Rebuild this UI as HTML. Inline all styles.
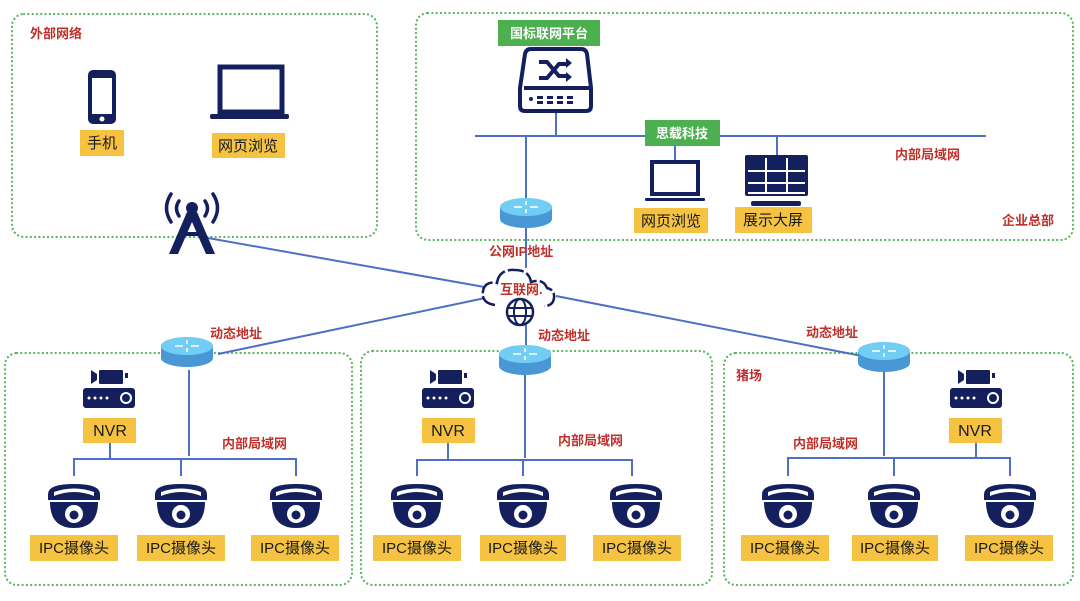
<!DOCTYPE html>
<html><head><meta charset="utf-8"><style>
body{margin:0;background:#fff;width:1080px;height:596px;overflow:hidden}
text{font-family:"Liberation Sans","Noto Sans CJK SC",sans-serif}
.r{fill:#c0302a;font-weight:bold;font-size:13px}
.y{fill:#1a1a1a;font-size:15px;text-anchor:middle}
.g{fill:#fff;font-size:13px;font-weight:bold;text-anchor:middle}
</style></head><body>
<svg width="1080" height="596" viewBox="0 0 1080 596" xmlns="http://www.w3.org/2000/svg">
<defs>
<g id="cam">
<path d="M-26,16 L-26,10 Q-26,0 0,0 Q26,0 26,10 L26,16 Z" fill="#14205e"/>
<path d="M-20,12 Q0,4 20,12 L20,8 Q0,1 -20,8 Z" fill="#fff"/>
<path d="M-24,18 L24,18 Q24,44 0,44 Q-24,44 -24,18 Z" fill="#14205e"/>
<circle cx="0" cy="30" r="9" fill="#fff"/><circle cx="0" cy="31" r="4.5" fill="#14205e"/>
</g>
<g id="rt">
<path d="M-26,0 L-26,12 A26,9 0 0 0 26,12 L26,0 Z" fill="#4a97d6"/>
<ellipse cx="0" cy="0" rx="26" ry="9" fill="#72cdf4"/>
<path d="M-12,0 h8 M12,0 h-8 M0,-6 v4 M0,6 v-4" stroke="#fff" stroke-width="1.5"/>
</g>
<g id="nvr">
<path d="M8,0 L14,4 L14,10 L8,14 Z" fill="#14205e"/>
<rect x="16" y="0" width="24" height="14" rx="1" fill="#14205e"/><rect x="42" y="3" width="3" height="5" fill="#14205e"/>
<rect x="0" y="18" width="52" height="20" rx="3" fill="#14205e"/>
<circle cx="6" cy="28" r="1.5" fill="#fff"/><circle cx="12" cy="28" r="1.5" fill="#fff"/><circle cx="18" cy="28" r="1.5" fill="#fff"/><circle cx="24" cy="28" r="1.5" fill="#fff"/>
<circle cx="43" cy="28" r="5" fill="none" stroke="#fff" stroke-width="2"/>
</g>
</defs>
<g fill="none" stroke="#58b65a" stroke-width="2.2" stroke-dasharray="0.1 4.2" stroke-linecap="round">
<rect x="12" y="14" width="365" height="223" rx="12"/>
<rect x="416" y="13" width="657" height="227" rx="12"/>
<rect x="5" y="353" width="347" height="232" rx="12"/>
<rect x="361" y="351" width="351" height="234" rx="12"/>
<rect x="724" y="353" width="349" height="232" rx="12"/>
</g>
<g stroke="#4d6fc6" stroke-width="2" fill="none">
<line x1="208" y1="238" x2="490" y2="288"/>
<line x1="218" y1="354" x2="490" y2="297"/>
<line x1="556" y1="296" x2="862" y2="356"/>
<line x1="475" y1="136" x2="986" y2="136"/>
<line x1="556" y1="112" x2="556" y2="136"/>
<line x1="526" y1="136" x2="526" y2="200"/>
<line x1="526" y1="225" x2="526" y2="268"/>
<line x1="526" y1="325" x2="526" y2="350"/>
<line x1="675" y1="146" x2="675" y2="160"/>
<line x1="777" y1="136" x2="777" y2="155"/>
<line x1="189" y1="370" x2="189" y2="456"/>
<polyline points="74,476 74,459 296,459 296,476"/><line x1="181" y1="459" x2="181" y2="476"/><line x1="110" y1="442" x2="110" y2="459"/>
<line x1="525" y1="370" x2="525" y2="458"/>
<polyline points="417,476 417,460 632,460 632,476"/><line x1="523" y1="460" x2="523" y2="476"/><line x1="448" y1="442" x2="448" y2="460"/>
<line x1="884" y1="370" x2="884" y2="456"/>
<polyline points="788,476 788,458 1010,458 1010,476"/><line x1="894" y1="458" x2="894" y2="476"/><line x1="976" y1="442" x2="976" y2="458"/>
</g>
<!-- top-left -->
<text class="r" x="30" y="38">外部网络</text>
<rect x="88" y="70" width="28" height="54" rx="5" fill="#14205e"/><rect x="92" y="78" width="20" height="36" fill="#fff"/><circle cx="102" cy="119" r="2.5" fill="#fff"/>
<rect x="80" y="130" width="44" height="26" fill="#f5c242"/><text class="y" x="102" y="148">手机</text>
<rect x="220" y="67" width="62" height="45" fill="none" stroke="#14205e" stroke-width="5"/><rect x="210" y="114" width="79" height="5" rx="2" fill="#14205e"/>
<rect x="212" y="133" width="73" height="25" fill="#f5c242"/><text class="y" x="248" y="151">网页浏览</text>
<g fill="none" stroke="#14205e" stroke-width="3.5" stroke-linecap="round"><path d="M171,194 Q162,208 171,222"/><path d="M179,201 Q174,208 179,216"/><path d="M213,194 Q222,208 213,222"/><path d="M205,201 Q210,208 205,216"/></g>
<circle cx="192" cy="208" r="6" fill="#14205e"/><path d="M187,212 L197,212 L215,254 L206,254 L192,222 L178,254 L169,254 Z" fill="#14205e"/><rect x="184" y="232" width="16" height="4" fill="#14205e"/>
<!-- top-right -->
<rect x="498" y="20" width="102" height="26" fill="#4caf50"/><text class="g" x="549" y="38">国标联网平台</text>
<path d="M531,49 h50 q5,0 6,5 l4,34 v18 q0,5 -5,5 h-61 q-5,0 -5,-5 v-18 l5,-34 q1,-5 6,-5z" fill="none" stroke="#14205e" stroke-width="4"/>
<line x1="524" y1="88" x2="589" y2="88" stroke="#14205e" stroke-width="4"/>
<g fill="#14205e"><circle cx="531" cy="99" r="2"/><rect x="537" y="96" width="6" height="3"/><rect x="537" y="101" width="6" height="3"/><rect x="547" y="96" width="6" height="3"/><rect x="547" y="101" width="6" height="3"/><rect x="557" y="96" width="6" height="3"/><rect x="557" y="101" width="6" height="3"/><rect x="567" y="96" width="6" height="3"/><rect x="567" y="101" width="6" height="3"/></g>
<path d="M539,62 h8 l12,14 h8 M539,78 h8 l12,-14 h8" fill="none" stroke="#14205e" stroke-width="4"/>
<path d="M566,58 l6,5 l-6,5z M566,72 l6,5 l-6,5z" fill="#14205e"/>
<rect x="645" y="120" width="75" height="26" fill="#4caf50"/><text class="g" x="682" y="138">思载科技</text>
<rect x="652" y="162" width="46" height="32" fill="none" stroke="#14205e" stroke-width="4"/><rect x="645" y="198" width="60" height="3" rx="1" fill="#14205e"/>
<rect x="634" y="208" width="74" height="25" fill="#f5c242"/><text class="y" x="671" y="226">网页浏览</text>
<rect x="745" y="155" width="63" height="41" rx="2" fill="#14205e"/>
<g fill="#fff">
<rect x="748" y="170" width="57" height="2"/><rect x="748" y="182" width="57" height="2"/><rect x="765" y="158" width="2" height="35"/><rect x="786" y="158" width="2" height="35"/><rect x="748" y="192" width="57" height="2"/></g>
<rect x="751" y="201" width="50" height="5" rx="2" fill="#14205e"/>
<rect x="735" y="207" width="77" height="26" fill="#f5c242"/><text class="y" x="773" y="225">展示大屏</text>
<text class="r" x="895" y="159">内部局域网</text>
<text class="r" x="1002" y="225">企业总部</text>
<use href="#rt" x="526" y="207"/>
<text class="r" x="489" y="256">公网IP地址</text>
<!-- cloud -->
<path d="M495,305 q-14,-2 -12,-14 q2,-10 14,-8 q2,-14 18,-13 q14,0 16,12 q12,-4 16,6 q8,2 7,10 q-1,8 -10,8" fill="#fff" stroke="#14205e" stroke-width="2.5" stroke-dasharray="16 3"/>
<text class="r" x="500" y="294">互联网.</text>
<circle cx="520" cy="312" r="13" fill="#fff" stroke="#14205e" stroke-width="2.5"/>
<ellipse cx="520" cy="312" rx="6" ry="13" fill="none" stroke="#14205e" stroke-width="2"/>
<line x1="507" y1="308" x2="533" y2="308" stroke="#14205e" stroke-width="2"/><line x1="507" y1="316" x2="533" y2="316" stroke="#14205e" stroke-width="2"/>
<text class="r" x="210" y="338">动态地址</text>
<text class="r" x="538" y="340">动态地址</text>
<text class="r" x="806" y="337">动态地址</text>
<use href="#rt" x="187" y="346"/>
<use href="#rt" x="525" y="354"/>
<use href="#rt" x="884" y="351"/>
<!-- bottom boxes -->
<use href="#nvr" x="83" y="370"/><rect x="83" y="418" width="53" height="25" fill="#f5c242"/><text class="y" x="110" y="436" style="font-size:16px">NVR</text>
<text class="r" x="222" y="448">内部局域网</text>
<use href="#cam" x="74" y="484"/><use href="#cam" x="181" y="484"/><use href="#cam" x="296" y="484"/>
<rect x="30" y="535" width="88" height="26" fill="#f5c242"/><text class="y" x="74" y="553">IPC摄像头</text>
<rect x="137" y="535" width="88" height="26" fill="#f5c242"/><text class="y" x="181" y="553">IPC摄像头</text>
<rect x="251" y="535" width="88" height="26" fill="#f5c242"/><text class="y" x="295" y="553">IPC摄像头</text>

<use href="#nvr" x="422" y="370"/><rect x="422" y="418" width="53" height="25" fill="#f5c242"/><text class="y" x="448" y="436" style="font-size:16px">NVR</text>
<text class="r" x="558" y="445">内部局域网</text>
<use href="#cam" x="417" y="484"/><use href="#cam" x="523" y="484"/><use href="#cam" x="636" y="484"/>
<rect x="373" y="535" width="88" height="26" fill="#f5c242"/><text class="y" x="417" y="553">IPC摄像头</text>
<rect x="480" y="535" width="86" height="26" fill="#f5c242"/><text class="y" x="523" y="553">IPC摄像头</text>
<rect x="593" y="535" width="88" height="26" fill="#f5c242"/><text class="y" x="637" y="553">IPC摄像头</text>

<text class="r" x="736" y="380">猪场</text>
<use href="#nvr" x="950" y="370"/><rect x="949" y="418" width="53" height="25" fill="#f5c242"/><text class="y" x="975" y="436" style="font-size:16px">NVR</text>
<text class="r" x="793" y="448">内部局域网</text>
<use href="#cam" x="788" y="484"/><use href="#cam" x="894" y="484"/><use href="#cam" x="1010" y="484"/>
<rect x="741" y="535" width="88" height="26" fill="#f5c242"/><text class="y" x="785" y="553">IPC摄像头</text>
<rect x="852" y="535" width="86" height="26" fill="#f5c242"/><text class="y" x="895" y="553">IPC摄像头</text>
<rect x="965" y="535" width="88" height="26" fill="#f5c242"/><text class="y" x="1009" y="553">IPC摄像头</text>
</svg>
</body></html>
